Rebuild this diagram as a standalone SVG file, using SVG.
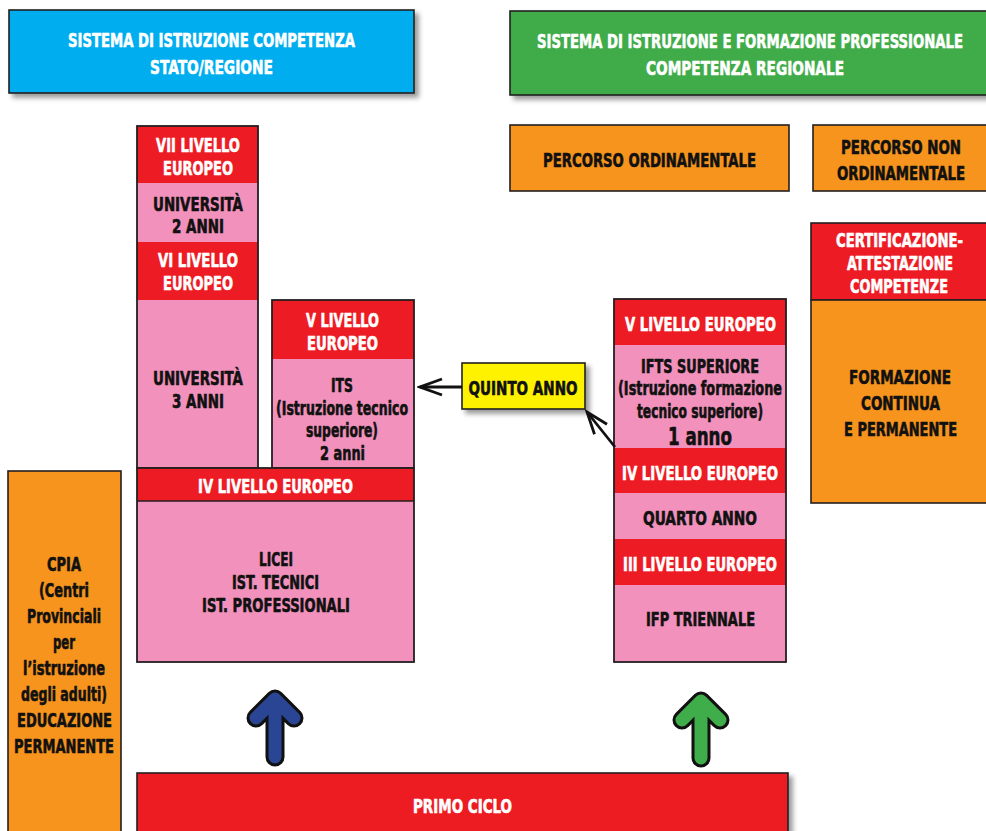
<svg xmlns="http://www.w3.org/2000/svg" width="986" height="831" viewBox="0 0 986 831">
<defs>
<filter id="sh" x="-10%" y="-10%" width="130%" height="140%">
<feDropShadow dx="4" dy="4" stdDeviation="2.5" flood-color="#000" flood-opacity="0.4"/>
</filter>
<marker id="open" viewBox="0 0 26 20" refX="23" refY="10" markerWidth="26" markerHeight="20" markerUnits="userSpaceOnUse" orient="auto">
<path d="M1,2 L23,10 L1,18" fill="none" stroke="#111" stroke-width="2.8" stroke-linejoin="miter"/>
</marker>
</defs>
<style>
text{font-family:"Liberation Sans Narrow","DejaVu Sans Condensed","Liberation Sans",sans-serif;font-weight:bold;font-size:19px;text-anchor:middle;stroke-width:0.6px;stroke-linejoin:round}
.w{fill:#fff;stroke:#fff}
.k{fill:#111;stroke:#111}
.hd{font-size:20px}
.box{stroke:#231f20;stroke-width:1.6}
.ol{fill:none;stroke:#231f20;stroke-width:1.8}
.blue{fill:#00aeef}
.green{fill:#3fac4a}
.orange{fill:#f7941d}
.red{fill:#ed1c24}
.pink{fill:#f291bc}
.yellow{fill:#fff200}
.conn{fill:none;stroke:#111;stroke-width:2.8}
</style>
<rect width="986" height="831" fill="#fff"/>

<g id="header-stato">
<rect class="box blue" x="9" y="10" width="405" height="83" filter="url(#sh)"/>
<text class="w hd" x="211.5" y="47" textLength="287" lengthAdjust="spacingAndGlyphs">SISTEMA DI ISTRUZIONE COMPETENZA</text>
<text class="w hd" x="211.5" y="74" textLength="123" lengthAdjust="spacingAndGlyphs">STATO/REGIONE</text>
</g>

<g id="header-regionale">
<rect class="box green" x="510" y="11" width="477" height="84" filter="url(#sh)"/>
<text class="w hd" x="750" y="48" textLength="426" lengthAdjust="spacingAndGlyphs">SISTEMA DI ISTRUZIONE E FORMAZIONE PROFESSIONALE</text>
<text class="w hd" x="745" y="75" textLength="198" lengthAdjust="spacingAndGlyphs">COMPETENZA REGIONALE</text>
</g>

<g id="percorso-ordinamentale">
<rect class="box orange" x="510" y="125" width="279" height="66"/>
<text class="k" x="649.5" y="167" textLength="213" lengthAdjust="spacingAndGlyphs">PERCORSO ORDINAMENTALE</text>
</g>

<g id="percorso-non-ordinamentale">
<rect class="box orange" x="813" y="125" width="174" height="66"/>
<text class="k" x="901" y="154" textLength="120" lengthAdjust="spacingAndGlyphs">PERCORSO NON</text>
<text class="k" x="901" y="180" textLength="128" lengthAdjust="spacingAndGlyphs">ORDINAMENTALE</text>
</g>

<g id="certificazione">
<rect class="box red" x="811" y="223" width="176" height="77"/>
<text class="w" x="899.5" y="247" textLength="127" lengthAdjust="spacingAndGlyphs">CERTIFICAZIONE-</text>
<text class="w" x="900" y="270" textLength="106" lengthAdjust="spacingAndGlyphs">ATTESTAZIONE</text>
<text class="w" x="899" y="293" textLength="98" lengthAdjust="spacingAndGlyphs">COMPETENZE</text>
</g>

<g id="formazione-continua">
<rect class="box orange" x="811" y="300" width="176" height="203"/>
<text class="k" x="900" y="384" textLength="102" lengthAdjust="spacingAndGlyphs">FORMAZIONE</text>
<text class="k" x="900.5" y="410" textLength="79" lengthAdjust="spacingAndGlyphs">CONTINUA</text>
<text class="k" x="900.5" y="436" textLength="113" lengthAdjust="spacingAndGlyphs">E PERMANENTE</text>
</g>

<g id="colonna-universita">
<rect class="red" x="137" y="126" width="121" height="57"/>
<rect class="pink" x="137" y="183" width="121" height="59"/>
<rect class="red" x="137" y="242" width="121" height="58"/>
<rect class="pink" x="137" y="300" width="121" height="168"/>
<rect class="ol" x="137" y="126" width="121" height="342"/>
<text class="w" x="198" y="152" textLength="84" lengthAdjust="spacingAndGlyphs">VII LIVELLO</text>
<text class="w" x="198" y="175" textLength="70" lengthAdjust="spacingAndGlyphs">EUROPEO</text>
<text class="k" x="198" y="211" textLength="90" lengthAdjust="spacingAndGlyphs">UNIVERSITÀ</text>
<text class="k" x="198" y="233" textLength="52" lengthAdjust="spacingAndGlyphs">2 ANNI</text>
<text class="w" x="198" y="267" textLength="80" lengthAdjust="spacingAndGlyphs">VI LIVELLO</text>
<text class="w" x="198" y="290" textLength="70" lengthAdjust="spacingAndGlyphs">EUROPEO</text>
<text class="k" x="198" y="385" textLength="90" lengthAdjust="spacingAndGlyphs">UNIVERSITÀ</text>
<text class="k" x="198" y="408" textLength="52" lengthAdjust="spacingAndGlyphs">3 ANNI</text>
</g>

<g id="its">
<rect class="red" x="272" y="300" width="142" height="59"/>
<rect class="pink" x="272" y="359" width="142" height="109"/>
<rect class="ol" x="272" y="300" width="142" height="168"/>
<text class="w" x="342.5" y="327" textLength="73" lengthAdjust="spacingAndGlyphs">V LIVELLO</text>
<text class="w" x="342.5" y="350" textLength="71" lengthAdjust="spacingAndGlyphs">EUROPEO</text>
<text class="k" x="342" y="392" textLength="22" lengthAdjust="spacingAndGlyphs">ITS</text>
<text class="k" x="342" y="415" textLength="132" lengthAdjust="spacingAndGlyphs">(Istruzione tecnico</text>
<text class="k" x="342" y="437" textLength="72" lengthAdjust="spacingAndGlyphs">superiore)</text>
<text class="k" x="342.5" y="460" textLength="45" lengthAdjust="spacingAndGlyphs">2 anni</text>
</g>

<g id="licei">
<rect class="red" x="137" y="468" width="277" height="33"/>
<rect class="pink" x="137" y="501" width="277" height="161"/>
<rect class="ol" x="137" y="468" width="277" height="194"/>
<line x1="137" y1="501" x2="414" y2="501" stroke="#231f20" stroke-width="1.6"/>
<text class="w" x="275.5" y="493" textLength="155" lengthAdjust="spacingAndGlyphs">IV LIVELLO EUROPEO</text>
<text class="k" x="276" y="566" textLength="34" lengthAdjust="spacingAndGlyphs">LICEI</text>
<text class="k" x="275.5" y="589" textLength="87" lengthAdjust="spacingAndGlyphs">IST. TECNICI</text>
<text class="k" x="276" y="612" textLength="148" lengthAdjust="spacingAndGlyphs">IST. PROFESSIONALI</text>
</g>

<g id="cpia">
<rect class="box orange" x="8" y="471" width="113" height="365"/>
<text class="k" x="64" y="571" textLength="34" lengthAdjust="spacingAndGlyphs">CPIA</text>
<text class="k" x="64" y="597" textLength="50" lengthAdjust="spacingAndGlyphs">(Centri</text>
<text class="k" x="64" y="623" textLength="74" lengthAdjust="spacingAndGlyphs">Provinciali</text>
<text class="k" x="64" y="649" textLength="22" lengthAdjust="spacingAndGlyphs">per</text>
<text class="k" x="64" y="675" textLength="82" lengthAdjust="spacingAndGlyphs">l’istruzione</text>
<text class="k" x="64" y="701" textLength="86" lengthAdjust="spacingAndGlyphs">degli adulti)</text>
<text class="k" x="64.5" y="727" textLength="95" lengthAdjust="spacingAndGlyphs">EDUCAZIONE</text>
<text class="k" x="64" y="753" textLength="100" lengthAdjust="spacingAndGlyphs">PERMANENTE</text>
</g>

<g id="quinto-anno">
<rect class="box yellow" x="462" y="363" width="123" height="46" filter="url(#sh)"/>
<text class="k" x="523" y="395" textLength="109" lengthAdjust="spacingAndGlyphs">QUINTO ANNO</text>
</g>

<g id="colonna-ifp">
<rect class="red" x="614" y="299" width="172" height="46"/>
<rect class="pink" x="614" y="345" width="172" height="103"/>
<rect class="red" x="614" y="448" width="172" height="45"/>
<rect class="pink" x="614" y="493" width="172" height="46"/>
<rect class="red" x="614" y="539" width="172" height="46"/>
<rect class="pink" x="614" y="585" width="172" height="77"/>
<rect class="ol" x="614" y="299" width="172" height="363"/>
<text class="w" x="700.5" y="331" textLength="151" lengthAdjust="spacingAndGlyphs">V LIVELLO EUROPEO</text>
<text class="k" x="700" y="373" textLength="118" lengthAdjust="spacingAndGlyphs">IFTS SUPERIORE</text>
<text class="k" x="700" y="395" textLength="164" lengthAdjust="spacingAndGlyphs">(Istruzione formazione</text>
<text class="k" x="700" y="418" textLength="126" lengthAdjust="spacingAndGlyphs">tecnico superiore)</text>
<text class="k" x="700" y="445" style="font-size:24px" textLength="64" lengthAdjust="spacingAndGlyphs">1 anno</text>
<text class="w" x="700" y="480" textLength="156" lengthAdjust="spacingAndGlyphs">IV LIVELLO EUROPEO</text>
<text class="k" x="700" y="525" textLength="114" lengthAdjust="spacingAndGlyphs">QUARTO ANNO</text>
<text class="w" x="700" y="571" textLength="154" lengthAdjust="spacingAndGlyphs">III LIVELLO EUROPEO</text>
<text class="k" x="700.5" y="626" textLength="109" lengthAdjust="spacingAndGlyphs">IFP TRIENNALE</text>
</g>

<g id="primo-ciclo">
<rect class="box red" x="137" y="773" width="651" height="65" filter="url(#sh)"/>
<text class="w" x="462.5" y="813" textLength="99" lengthAdjust="spacingAndGlyphs">PRIMO CICLO</text>
</g>

<g id="connectors">
<path class="conn" d="M462,387 L420,387" marker-end="url(#open)"/>
<path class="conn" d="M615,447 L587,412" marker-end="url(#open)"/>
<g stroke-linecap="round" stroke-linejoin="round" fill="none">
<path d="M275,757 L275,699 M256,718 L275,699 L294,718" stroke="#111" stroke-width="19"/>
<path d="M275,757 L275,699 M256,718 L275,699 L294,718" stroke="#2b4595" stroke-width="13"/>
<path d="M701,758 L701,701 M682,720 L701,701 L720,720" stroke="#111" stroke-width="19"/>
<path d="M701,758 L701,701 M682,720 L701,701 L720,720" stroke="#3fae4a" stroke-width="13"/>
</g>
</g>
</svg>
